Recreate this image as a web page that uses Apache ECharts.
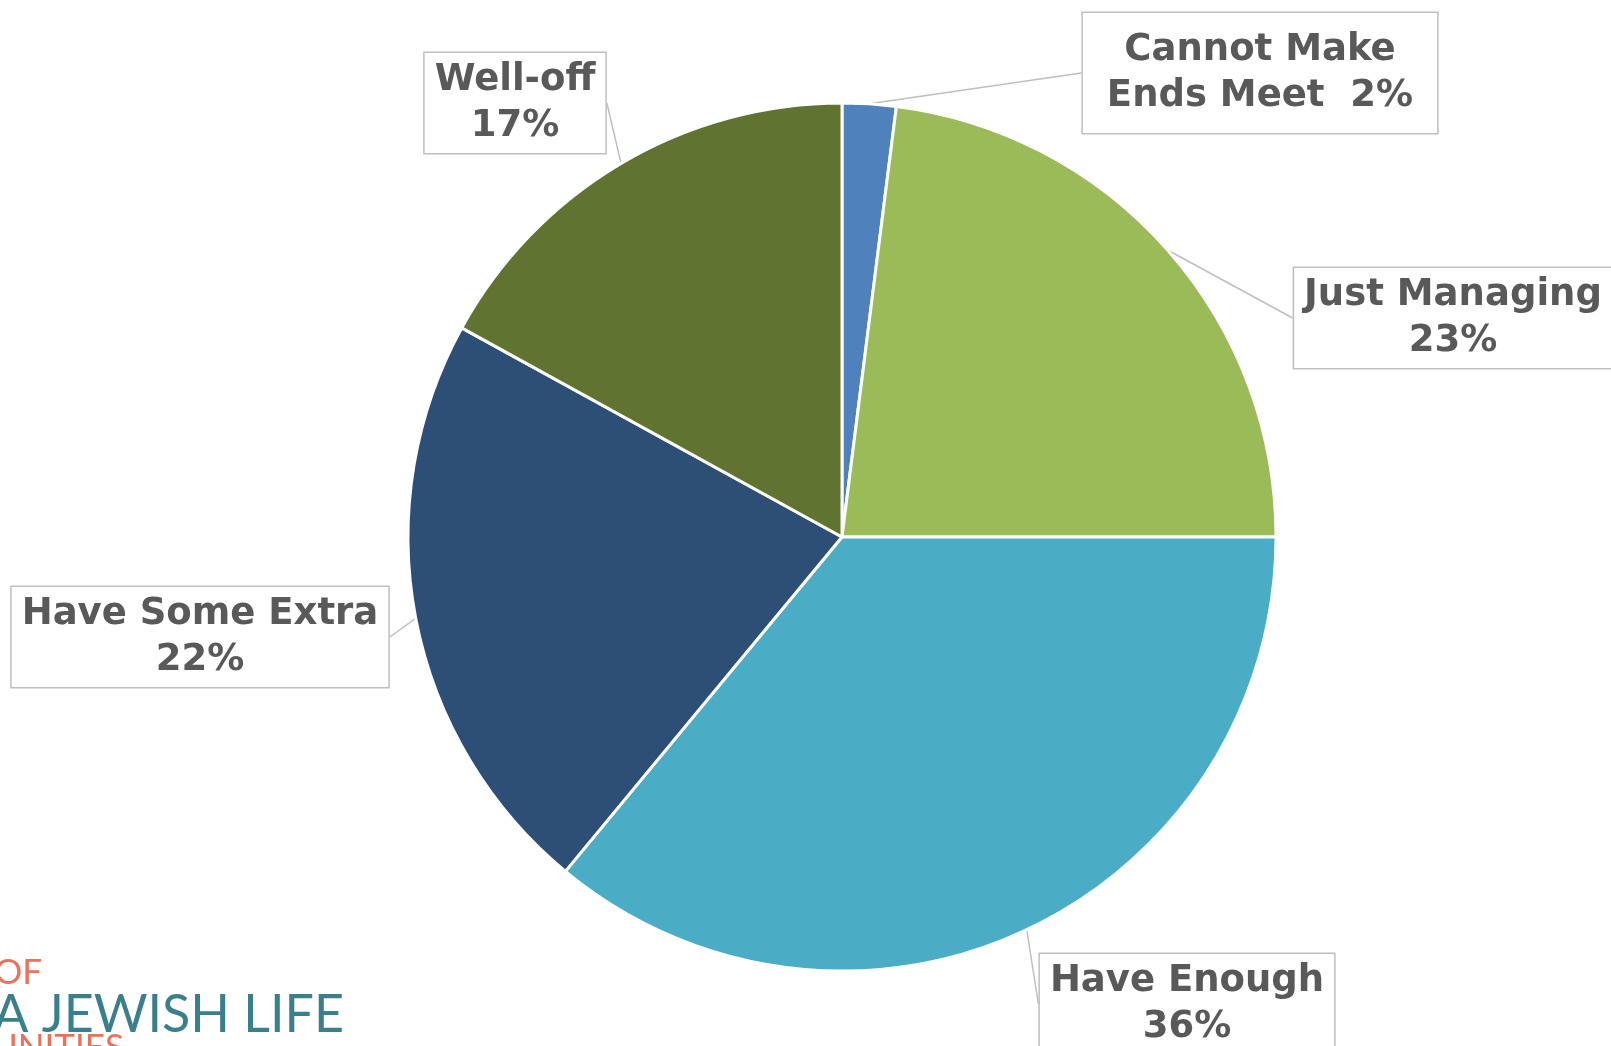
<!DOCTYPE html>
<html>
<head>
<meta charset="utf-8">
<script src="https://cdn.jsdelivr.net/npm/echarts@6/dist/echarts.min.js"></script>
<style>
html,body{margin:0;padding:0;background:#fff;}
#chart{width:1611px;height:1046px;}
</style>
</head>
<body>
<div id="chart"></div>
<script>
// ---- data ----
const categories = ['Cannot Make\nEnds Meet', 'Just Managing', 'Have Enough', 'Have Some Extra', 'Well-off'];
const values = [2, 23, 36, 22, 17];

// ---- styling / layout (kept apart from data) ----
const colors = ['#4F81BD', '#9BBB59', '#4BACC6', '#2D4E75', '#617330'];
const labelCenters = [[1260, 73], [1453, 318], [1187, 1004], [200, 637], [515, 103]];
const labelPadding = [[18, 24, 10, 24], [8, 10, 0, 10], [8, 10, 0, 10], [8, 10, 0, 10], [8, 10, 0, 10]];

const chart = echarts.init(document.getElementById('chart'), null, {renderer: 'canvas'});

const data = categories.map((c, i) => ({
  name: c,
  value: values[i],
  itemStyle: {color: colors[i]},
  label: {padding: labelPadding[i]}
}));

chart.setOption({
  animation: false,
  backgroundColor: '#ffffff',
  series: [{
    type: 'pie',
    center: [842, 537],
    radius: 434,
    startAngle: 90,
    clockwise: true,
    data: data,
    itemStyle: {borderColor: '#ffffff', borderWidth: 3},
    label: {
      show: true,
      position: 'outside',
      formatter: p => p.dataIndex === 0 ? p.name + '  ' + p.value + '%' : p.name + '\n' + p.value + '%',
      fontFamily: 'DejaVu Sans',
      fontWeight: 'bold',
      fontSize: 37,
      lineHeight: 46,
      color: '#595959',
      align: 'center',
      backgroundColor: '#ffffff',
      borderColor: '#BFBFBF',
      borderWidth: 1.5
    },
    labelLine: {
      show: true,
      length: 0,
      length2: 0,
      lineStyle: {color: '#BFBFBF', width: 1.5}
    },
    labelLayout: function (params) {
      const c = labelCenters[params.dataIndex];
      return {x: c[0], y: c[1], align: 'center', verticalAlign: 'middle'};
    },
    emphasis: {disabled: true}
  }],
  graphic: [
    {type: 'text', right: 1611 - 42, top: 955, style: {text: 'OF', fill: '#E8735A', font: '35px Lato', textAlign: 'right'}},
    {type: 'text', right: 1611 - 344, top: 989, style: {text: 'A JEWISH LIFE', fill: '#3A7F8C', font: '52px Lato'}},
    {type: 'text', right: 1611 - 124, top: 1030, style: {text: 'UNITIES', fill: '#E8735A', font: '35px Lato'}}
  ]
});
</script>
</body>
</html>
